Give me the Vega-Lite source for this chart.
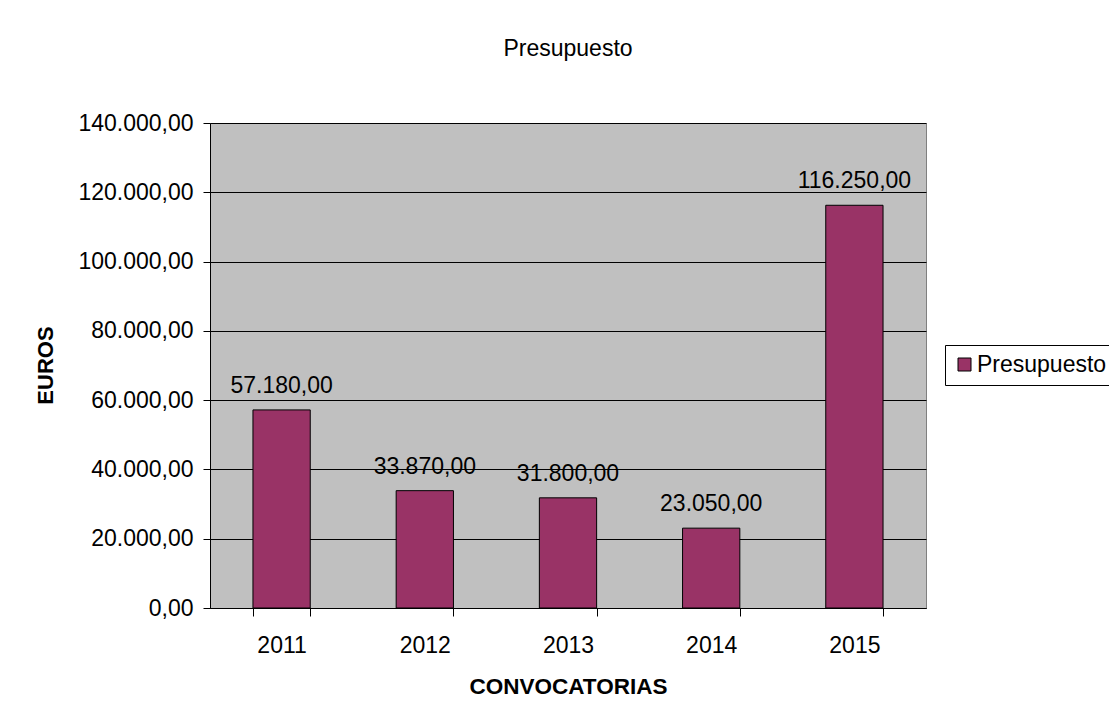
{
  "$schema": "https://vega.github.io/schema/vega-lite/v6.json",
  "width": 716,
  "height": 485,
  "autosize": {"type": "none"},
  "padding": {"left": 210, "top": 123, "right": 183, "bottom": 111},
  "background": "white",
  "title": {
    "text": "Presupuesto",
    "font": "Liberation Sans",
    "fontSize": 23,
    "fontWeight": "normal",
    "color": "black",
    "anchor": "middle",
    "baseline": "alphabetic",
    "offset": 33
  },
  "data": {
    "values": [
      {"year": "2011", "serie": "Presupuesto", "euros": 57180},
      {"year": "2012", "serie": "Presupuesto", "euros": 33870},
      {"year": "2013", "serie": "Presupuesto", "euros": 31800},
      {"year": "2014", "serie": "Presupuesto", "euros": 23050},
      {"year": "2015", "serie": "Presupuesto", "euros": 116250}
    ]
  },
  "encoding": {
    "x": {
      "field": "year",
      "type": "nominal",
      "scale": {"paddingInner": 0.6, "paddingOuter": 0.3},
      "axis": {
        "title": "CONVOCATORIAS",
        "titleFont": "Liberation Sans",
        "titleFontSize": 22.5,
        "titleFontWeight": "bold",
        "titleColor": "black",
        "titleX": 358,
        "titleY": 85,
        "titleAlign": "center",
        "titleBaseline": "alphabetic",
        "labelAngle": 0,
        "labelFont": "Liberation Sans",
        "labelFontSize": 23,
        "labelColor": "black",
        "labelPadding": 18,
        "tickBand": "extent",
        "tickSize": 8,
        "tickColor": "black",
        "domainColor": "black",
        "grid": false
      }
    },
    "y": {
      "field": "euros",
      "type": "quantitative",
      "scale": {"domain": [0, 140000], "nice": false},
      "axis": {
        "title": "EUROS",
        "titleFont": "Liberation Sans",
        "titleFontSize": 22,
        "titleFontWeight": "bold",
        "titleColor": "black",
        "titleAngle": 270,
        "titleX": -158,
        "titleY": 242,
        "titleAlign": "center",
        "titleBaseline": "alphabetic",
        "values": [0, 20000, 40000, 60000, 80000, 100000, 120000, 140000],
        "format": ",.2f",
        "labelFont": "Liberation Sans",
        "labelFontSize": 23,
        "labelColor": "black",
        "labelPadding": 10,
        "tickSize": 7,
        "tickColor": "black",
        "domainColor": "black",
        "grid": true,
        "gridColor": "black",
        "gridWidth": 1.2
      }
    }
  },
  "layer": [
    {
      "mark": {"type": "bar", "stroke": "black", "strokeWidth": 1},
      "encoding": {
        "color": {
          "field": "serie",
          "type": "nominal",
          "scale": {"range": ["#993366"]},
          "legend": {
            "title": null,
            "orient": "none",
            "legendX": 735,
            "legendY": 222,
            "padding": 8,
            "strokeColor": "black",
            "fillColor": "white",
            "symbolType": "square",
            "symbolSize": 169,
            "symbolStrokeColor": "black",
            "symbolStrokeWidth": 1,
            "symbolOpacity": 1,
            "labelFont": "Liberation Sans",
            "labelFontSize": 23,
            "labelColor": "black",
            "labelOffset": 1
          }
        }
      }
    },
    {
      "mark": {
        "type": "text",
        "baseline": "alphabetic",
        "dy": -17,
        "font": "Liberation Sans",
        "fontSize": 23,
        "color": "black"
      },
      "encoding": {
        "text": {"field": "euros", "type": "quantitative", "format": ",.2f"}
      }
    }
  ],
  "config": {
    "locale": {
      "number": {"decimal": ",", "thousands": ".", "grouping": [3], "currency": ["", " €"]}
    },
    "view": {"fill": "#C0C0C0", "stroke": "#808080", "strokeWidth": 1}
  }
}
